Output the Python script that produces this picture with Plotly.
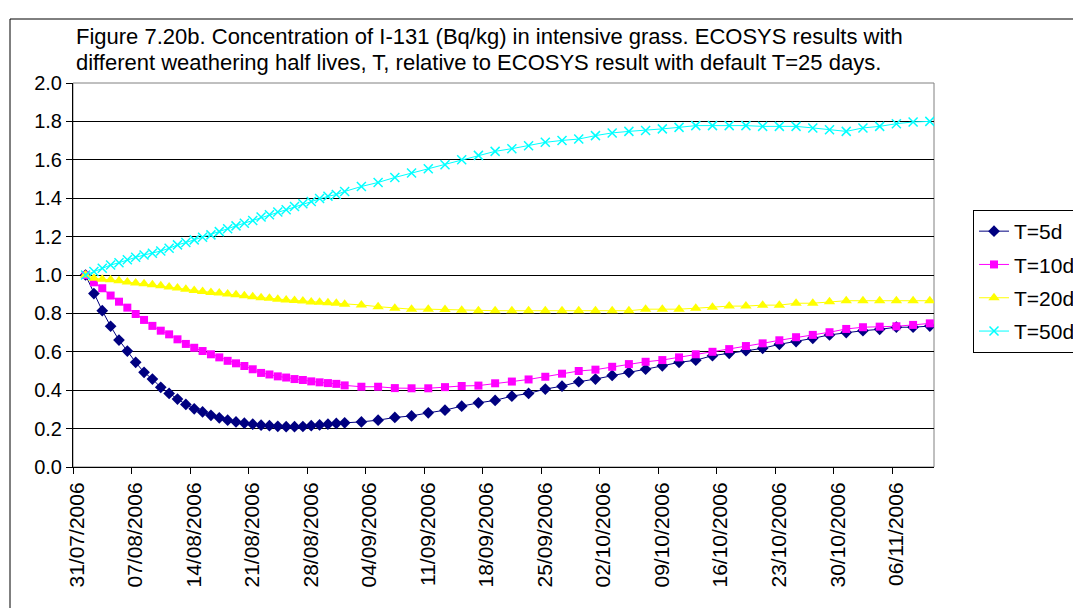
import pandas as pd
import plotly.graph_objects as go

# ---------------- data ----------------
dates = (
    ["2006-08-%02d" % d for d in range(1, 32)] + ["2006-09-01"]
    + ["2006-09-03", "2006-09-05", "2006-09-07", "2006-09-09", "2006-09-11", "2006-09-13",
       "2006-09-15", "2006-09-17", "2006-09-19", "2006-09-21", "2006-09-23", "2006-09-25",
       "2006-09-27", "2006-09-29"]
    + ["2006-10-01", "2006-10-03", "2006-10-05", "2006-10-07", "2006-10-09", "2006-10-11",
       "2006-10-13", "2006-10-15", "2006-10-17", "2006-10-19", "2006-10-21", "2006-10-23",
       "2006-10-25", "2006-10-27", "2006-10-29", "2006-10-31"]
    + ["2006-11-02", "2006-11-04", "2006-11-06", "2006-11-08", "2006-11-10"]
)

t5 = [1.000, 0.903, 0.814, 0.733, 0.661, 0.604, 0.545, 0.493, 0.458, 0.415, 0.383,
      0.354, 0.326, 0.303, 0.287, 0.269, 0.256, 0.244, 0.235, 0.228, 0.223,
      0.218, 0.215, 0.212, 0.210, 0.210, 0.211, 0.215, 0.219, 0.223, 0.227, 0.230,
      0.235, 0.244, 0.258, 0.266, 0.282, 0.296, 0.317, 0.334, 0.347, 0.369,
      0.383, 0.406, 0.421, 0.444, 0.458, 0.477, 0.493, 0.509, 0.527, 0.545, 0.556,
      0.580, 0.592, 0.606, 0.618, 0.639,
      0.653, 0.670, 0.688, 0.700, 0.710, 0.717, 0.728, 0.728, 0.734]

t10 = [1.000, 0.962, 0.931, 0.893, 0.861, 0.830, 0.797, 0.766, 0.735, 0.710, 0.691,
       0.665, 0.641, 0.621, 0.604, 0.587, 0.571, 0.553, 0.540, 0.526, 0.509,
       0.490, 0.482, 0.472, 0.466, 0.458, 0.453, 0.446, 0.441, 0.437, 0.433, 0.425,
       0.418, 0.418, 0.411, 0.410, 0.410, 0.416, 0.422, 0.424, 0.436, 0.445,
       0.456, 0.470, 0.486, 0.500, 0.507, 0.522, 0.536, 0.548, 0.557, 0.571, 0.587,
       0.600, 0.614, 0.630, 0.644, 0.660,
       0.676, 0.688, 0.702, 0.719, 0.728, 0.731, 0.733, 0.740, 0.748]

t20 = [1.000, 0.983, 0.978, 0.975, 0.970, 0.963, 0.958, 0.954, 0.949, 0.944, 0.937,
       0.932, 0.926, 0.919, 0.914, 0.909, 0.906, 0.901, 0.897, 0.892, 0.887,
       0.882, 0.879, 0.874, 0.870, 0.867, 0.865, 0.860, 0.858, 0.855, 0.853, 0.848,
       0.844, 0.835, 0.827, 0.822, 0.822, 0.820, 0.816, 0.814, 0.814, 0.814,
       0.814, 0.814, 0.814, 0.814, 0.814, 0.814, 0.814, 0.822, 0.822, 0.822, 0.827,
       0.832, 0.838, 0.838, 0.843, 0.843,
       0.853, 0.853, 0.861, 0.866, 0.866, 0.866, 0.866, 0.866, 0.866]

t50 = [1.000, 1.018, 1.035, 1.052, 1.064, 1.079, 1.092, 1.104, 1.113, 1.125, 1.139,
       1.157, 1.169, 1.183, 1.197, 1.209, 1.226, 1.241, 1.256, 1.270, 1.284, 1.302,
       1.314, 1.328, 1.340, 1.357, 1.371, 1.383, 1.398, 1.410, 1.419, 1.435,
       1.461, 1.482, 1.508, 1.531, 1.553, 1.574, 1.600, 1.623, 1.644, 1.658, 1.673,
       1.691, 1.701, 1.708, 1.726, 1.740, 1.748, 1.753, 1.761, 1.769, 1.778, 1.778,
       1.778, 1.778,
       1.774, 1.774, 1.774, 1.766, 1.757, 1.748, 1.766, 1.774, 1.788, 1.797, 1.800]

tick_labels = ["31/07/2006", "07/08/2006", "14/08/2006", "21/08/2006", "28/08/2006",
               "04/09/2006", "11/09/2006", "18/09/2006", "25/09/2006", "02/10/2006",
               "09/10/2006", "16/10/2006", "23/10/2006", "30/10/2006", "06/11/2006"]

series_names = ["T=5d", "T=10d", "T=20d", "T=50d"]
series_vals = [t5, t10, t20, t50]

title_lines = ["Figure 7.20b. Concentration of I-131 (Bq/kg) in intensive grass. ECOSYS results with",
               "different weathering half lives, T, relative to ECOSYS result with default T=25 days."]

# ---------------- styling ----------------
FONT = "Liberation Sans, Arial, sans-serif"
styles = [
    dict(color="#000080", symbol="diamond", size=9, lw=0),
    dict(color="#FF00FF", symbol="square", size=8, lw=0),
    dict(color="#FFFF00", symbol="triangle-up", size=10, lw=0),
    dict(color="#00FFFF", symbol="x-thin", size=9, lw=1.5),
]

x = pd.to_datetime(dates)
tick_dates = pd.to_datetime(tick_labels, format="%d/%m/%Y")
tickvals = tick_dates - pd.Timedelta(hours=12)   # Excel-style ticks between categories
x_start = tick_dates[0] - pd.Timedelta(hours=12)
x_end = pd.Timestamp("2006-11-10") + pd.Timedelta(hours=12)

fig = go.Figure()
for i, (name, vals, st) in enumerate(zip(series_names, series_vals, styles)):
    fig.add_trace(go.Scatter(
        x=x, y=vals, name=name, mode="lines+markers", legendgroup="g%d" % i,
        line=dict(color=st["color"], width=1),
        marker=dict(symbol=st["symbol"], size=st["size"], color=st["color"],
                    line=dict(color=st["color"], width=st["lw"])),
    ))

# page has an 8px body margin: work in figure coords = screen coords - 8
OFF = 8
L, R, T, B = 73 - OFF, 934 - OFF, 83 - OFF, 467 - OFF
W, H = 1081 - OFF, 608 - OFF
def px(p):
    return (p - OFF - L) / (R - L)
def py(p):
    return (B - (p - OFF)) / (B - T)

fig.update_layout(
    width=W, height=H,
    margin=dict(l=L, r=W - R, t=T, b=H - B, autoexpand=False),
    paper_bgcolor="white", plot_bgcolor="white",
    font=dict(family=FONT, size=20, color="black"),
    showlegend=True,
    legend=dict(x=px(973), y=py(210), xanchor="left", yanchor="top",
                bordercolor="black", borderwidth=1, bgcolor="white",
                font=dict(family=FONT, size=21, color="black"),
                tracegroupgap=3),
    xaxis=dict(type="date", range=[x_start, x_end], tickvals=tickvals, ticktext=tick_labels,
               tickangle=-90, ticks="outside", ticklen=6, tickcolor="black",
               showline=True, linecolor="black", linewidth=1, showgrid=False,
               ticklabelshift=4, tickfont=dict(size=21), zeroline=False),
    yaxis=dict(range=[0, 2.0], dtick=0.2, tick0=0, tickformat=".1f",
               ticks="outside", ticklen=6, tickcolor="black",
               showline=True, linecolor="black", linewidth=1,
               showgrid=True, gridcolor="black", gridwidth=1, zeroline=False,
               tickfont=dict(size=20)),
    annotations=[dict(text=line, xref="paper", yref="paper",
                      x=px(74), y=py(yc), xanchor="left", yanchor="middle",
                      align="left", showarrow=False,
                      font=dict(family=FONT, size=22, color="black"))
                 for line, yc in zip(title_lines, [36, 62])],
    shapes=[
        dict(type="rect", xref="paper", yref="paper", x0=0, x1=1, y0=0, y1=1,
             line=dict(color="#808080", width=1), layer="below"),
        dict(type="rect", xref="paper", yref="paper", x0=px(10), x1=px(1100),
             y0=py(620), y1=py(19), line=dict(color="black", width=1), layer="below"),
    ],
)

fig.write_html("out.html")
